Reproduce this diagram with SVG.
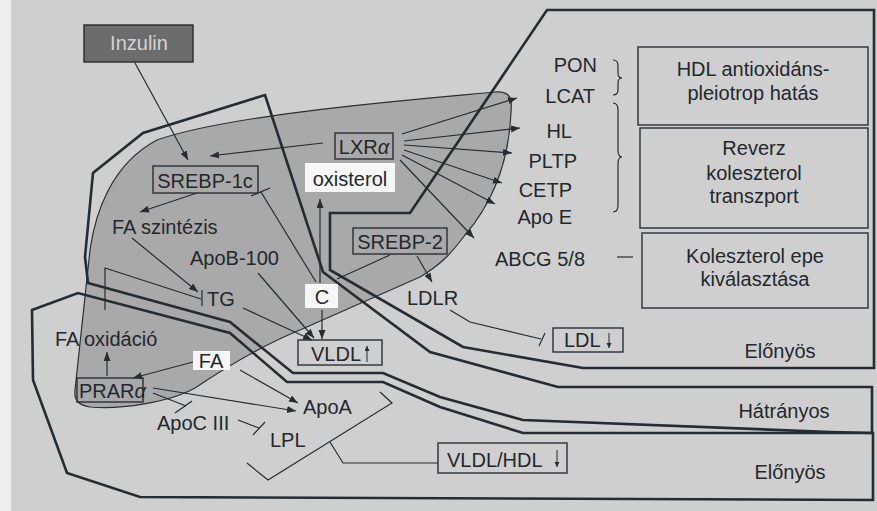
<svg xmlns="http://www.w3.org/2000/svg" width="877" height="511" viewBox="0 0 877 511">
<defs>
<marker id="ah" markerUnits="userSpaceOnUse" markerWidth="10" markerHeight="8" refX="9" refY="3.5" orient="auto">
<path d="M0,0 L9,3.5 L0,7 z" fill="#262c31"/>
</marker>
<marker id="ahs" markerUnits="userSpaceOnUse" markerWidth="6" markerHeight="6" refX="5" refY="2.5" orient="auto">
<path d="M0,0 L5,2.5 L0,5 z" fill="#262c31"/>
</marker>
<style>
text{font-family:"Liberation Sans",Arial,sans-serif;font-size:20px;fill:#22282d}
.c{text-anchor:middle}
.e{text-anchor:end}
.zone{fill:none;stroke:#262c31;stroke-width:2.6;stroke-linejoin:miter}
.box{fill:none;stroke:#2a3035;stroke-width:1.4}
.wbox{fill:#f7f7f7;stroke:none}
.ln{fill:none;stroke:#262c31;stroke-width:1.2}
.ar{fill:none;stroke:#262c31;stroke-width:1.2;marker-end:url(#ah)}
.sa{fill:none;stroke:#262c31;stroke-width:1;marker-end:url(#ahs)}
</style>
</defs>
<rect x="0" y="0" width="877" height="511" fill="#cfcfcf"/>
<rect x="0" y="0" width="11" height="511" fill="#eeeeee"/>
<g id="zones">
<path id="liver-blob" d="M157,140 C230,114 420,99 495,92 C512,91 512,100 511,112 C509,160 495,200 465,235 C450,255 440,265 420,277 L300,330 C260,346 225,368 195,388 C170,402 120,410 90,407 C78,405 74,400 75,390 L90,250 C95,215 110,165 157,140 Z" fill="#a9a9a9" stroke="#2a3035" stroke-width="1.2"/>
<path id="zone-elonyos-top" class="zone" d="M547,10 L874,10 L874,368 L583,368 L463,347 L330,270 L330,213 L410,213 Z"/>
<path id="zone-hatranyos" class="zone" d="M265,95 L323,272 L430,352 L558,387 L872,387 L872,433 L830,432 L523,420 L440,397 L383,373 L293,373 L230,322 L88,283 L85,257 L93,173 L143,133 Z"/>
<path id="zone-elonyos-bottom" class="zone" d="M32,310 L78,293 L230,333 L287,382 L383,382 L440,407 L523,433 L873,433 L873,500 L140,497 L67,473 L33,380 Z"/>
</g>
<g id="connectors">
<line class="ar" x1="135" y1="63" x2="188" y2="160"/>
<line class="ar" x1="323" y1="143" x2="210" y2="156"/>
<line class="ar" x1="197" y1="193" x2="140" y2="212"/>
<line class="ar" x1="132" y1="238" x2="198" y2="292"/>
<polyline class="ln" points="105,310 105,268 201,299"/>
<line class="ln" x1="202" y1="290" x2="202" y2="306"/>
<line class="ar" x1="243" y1="308" x2="312" y2="340"/>
<line class="ar" x1="258" y1="273" x2="314" y2="338"/>
<line class="ar" x1="322" y1="310" x2="322" y2="339"/>
<line class="ar" x1="320" y1="283" x2="320" y2="199"/>
<line class="ln" x1="316" y1="282" x2="261" y2="192"/>
<line class="ln" x1="251" y1="196" x2="270" y2="188"/>
<line class="ln" x1="337" y1="279" x2="390" y2="255"/>
<line class="ar" x1="417" y1="256" x2="432" y2="282"/>
<polyline class="ln" points="450,310 470,322 541,339"/>
<line class="ln" x1="545" y1="333" x2="539" y2="346"/>
<line class="ar" x1="402" y1="134" x2="517" y2="98"/>
<line class="ar" x1="404" y1="141" x2="520" y2="128"/>
<line class="ar" x1="404" y1="145" x2="512" y2="153"/>
<line class="ar" x1="404" y1="150" x2="502" y2="183"/>
<line class="ar" x1="402" y1="155" x2="495" y2="204"/>
<line class="ar" x1="400" y1="160" x2="474" y2="238"/>
<line class="ar" x1="193" y1="362" x2="133" y2="378"/>
<line class="ar" x1="107" y1="376" x2="107" y2="352"/>
<line class="ar" x1="240" y1="370" x2="298" y2="403"/>
<line class="ar" x1="153" y1="388" x2="296" y2="411"/>
<line class="ln" x1="153" y1="393" x2="186" y2="406"/>
<line class="ln" x1="175" y1="413" x2="192" y2="401"/>
<line class="ln" x1="238" y1="420" x2="259" y2="428"/>
<line class="ln" x1="253" y1="435" x2="265" y2="422"/>
<polyline class="ln" points="380,392 392,403 268,480 247,463"/>
<polyline class="ln" points="330,442 343,463 438,463"/>
<line class="ln" x1="617" y1="257" x2="633" y2="257" stroke-width="1.4"/>
<path class="ln" stroke-width="2" d="M613,60 Q618,60 618,66 L618,73 Q618,78 622,78 Q618,78 618,83 L618,90 Q618,95 613,95"/>
<path class="ln" stroke-width="2.6" d="M613,103 Q618,103 618,110 L618,150 Q618,157 622,157 Q618,157 618,164 L618,205 Q618,212 613,212"/>
</g>
<g id="inzulin"><rect x="84" y="25" width="109" height="37" fill="#6c6c6c" stroke="#2a2a2a" stroke-width="1.4"/><text class="c" x="139" y="50" style="fill:#d4d4d4">Inzulin</text></g>
<g id="lxr"><rect class="box" x="335" y="133" width="58" height="26"/><text class="c" x="364" y="154">LXR<tspan font-style="italic">α</tspan></text></g>
<g id="oxisterol"><rect class="wbox" x="305" y="163" width="90" height="29"/><text class="c" x="350" y="186">oxisterol</text></g>
<g id="srebp1c"><rect class="box" x="153" y="166" width="105" height="27"/><text class="c" x="205" y="188">SREBP-1c</text></g>
<g id="fa-szintezis"><text x="112" y="234">FA szintézis</text></g>
<g id="apob100"><text x="190" y="265">ApoB-100</text></g>
<g id="srebp2"><rect class="box" x="353" y="228" width="94" height="26"/><text class="c" x="400" y="249">SREBP-2</text></g>
<g id="c"><rect class="wbox" x="305" y="284" width="33" height="24"/><text class="c" x="322" y="304">C</text></g>
<g id="ldlr"><text x="407" y="305">LDLR</text></g>
<g id="tg"><text x="207" y="306">TG</text></g>
<g id="vldl"><rect class="box" x="298" y="340" width="84" height="25"/><text x="311" y="361">VLDL</text><line class="sa" x1="367" y1="362" x2="367" y2="346"/></g>
<g id="ldl"><rect class="box" x="553" y="328" width="70" height="24"/><text x="564" y="347">LDL</text><line class="sa" x1="609" y1="333" x2="609" y2="348"/></g>
<g id="fa-oxidacio"><text x="55" y="346">FA oxidáció</text></g>
<g id="fa"><rect class="wbox" x="193" y="351" width="37" height="19"/><text class="c" x="211" y="368">FA</text></g>
<g id="prar"><rect class="box" x="77" y="378" width="66" height="24"/><text x="79" y="398">PRAR<tspan font-style="italic">α</tspan></text></g>
<g id="apoa"><text x="303" y="414">ApoA</text></g>
<g id="apoc3"><text x="157" y="430">ApoC III</text></g>
<g id="lpl"><text x="270" y="447">LPL</text></g>
<g id="vldl-hdl"><rect class="box" x="438" y="443" width="129" height="30"/><text x="447" y="467">VLDL/HDL</text><line class="sa" x1="557" y1="450" x2="557" y2="467"/></g>
<g id="pon"><text class="e" x="597" y="72">PON</text></g>
<g id="lcat"><text class="e" x="595" y="103">LCAT</text></g>
<g id="hl"><text class="e" x="572" y="138">HL</text></g>
<g id="pltp"><text class="e" x="577" y="168">PLTP</text></g>
<g id="cetp"><text class="e" x="572" y="197">CETP</text></g>
<g id="apoe"><text class="e" x="572" y="224">Apo E</text></g>
<g id="abcg"><text x="495" y="266">ABCG 5/8</text></g>
<g id="hdl-box"><rect class="box" x="638" y="47" width="230" height="78"/><text class="c" x="753" y="76">HDL antioxidáns-</text><text class="c" x="753" y="100">pleiotrop hatás</text></g>
<g id="reverz-box"><rect class="box" x="640" y="128" width="228" height="100"/><text class="c" x="754" y="155">Reverz</text><text class="c" x="754" y="180">koleszterol</text><text class="c" x="754" y="203">transzport</text></g>
<g id="epe-box"><rect class="box" x="642" y="233" width="226" height="75"/><text class="c" x="755" y="263">Koleszterol epe</text><text class="c" x="755" y="286">kiválasztása</text></g>
<g id="elonyos-top"><text class="c" x="780" y="358">Előnyös</text></g>
<g id="hatranyos"><text class="c" x="784" y="418">Hátrányos</text></g>
<g id="elonyos-bottom"><text class="c" x="790" y="479">Előnyös</text></g>
</svg>
